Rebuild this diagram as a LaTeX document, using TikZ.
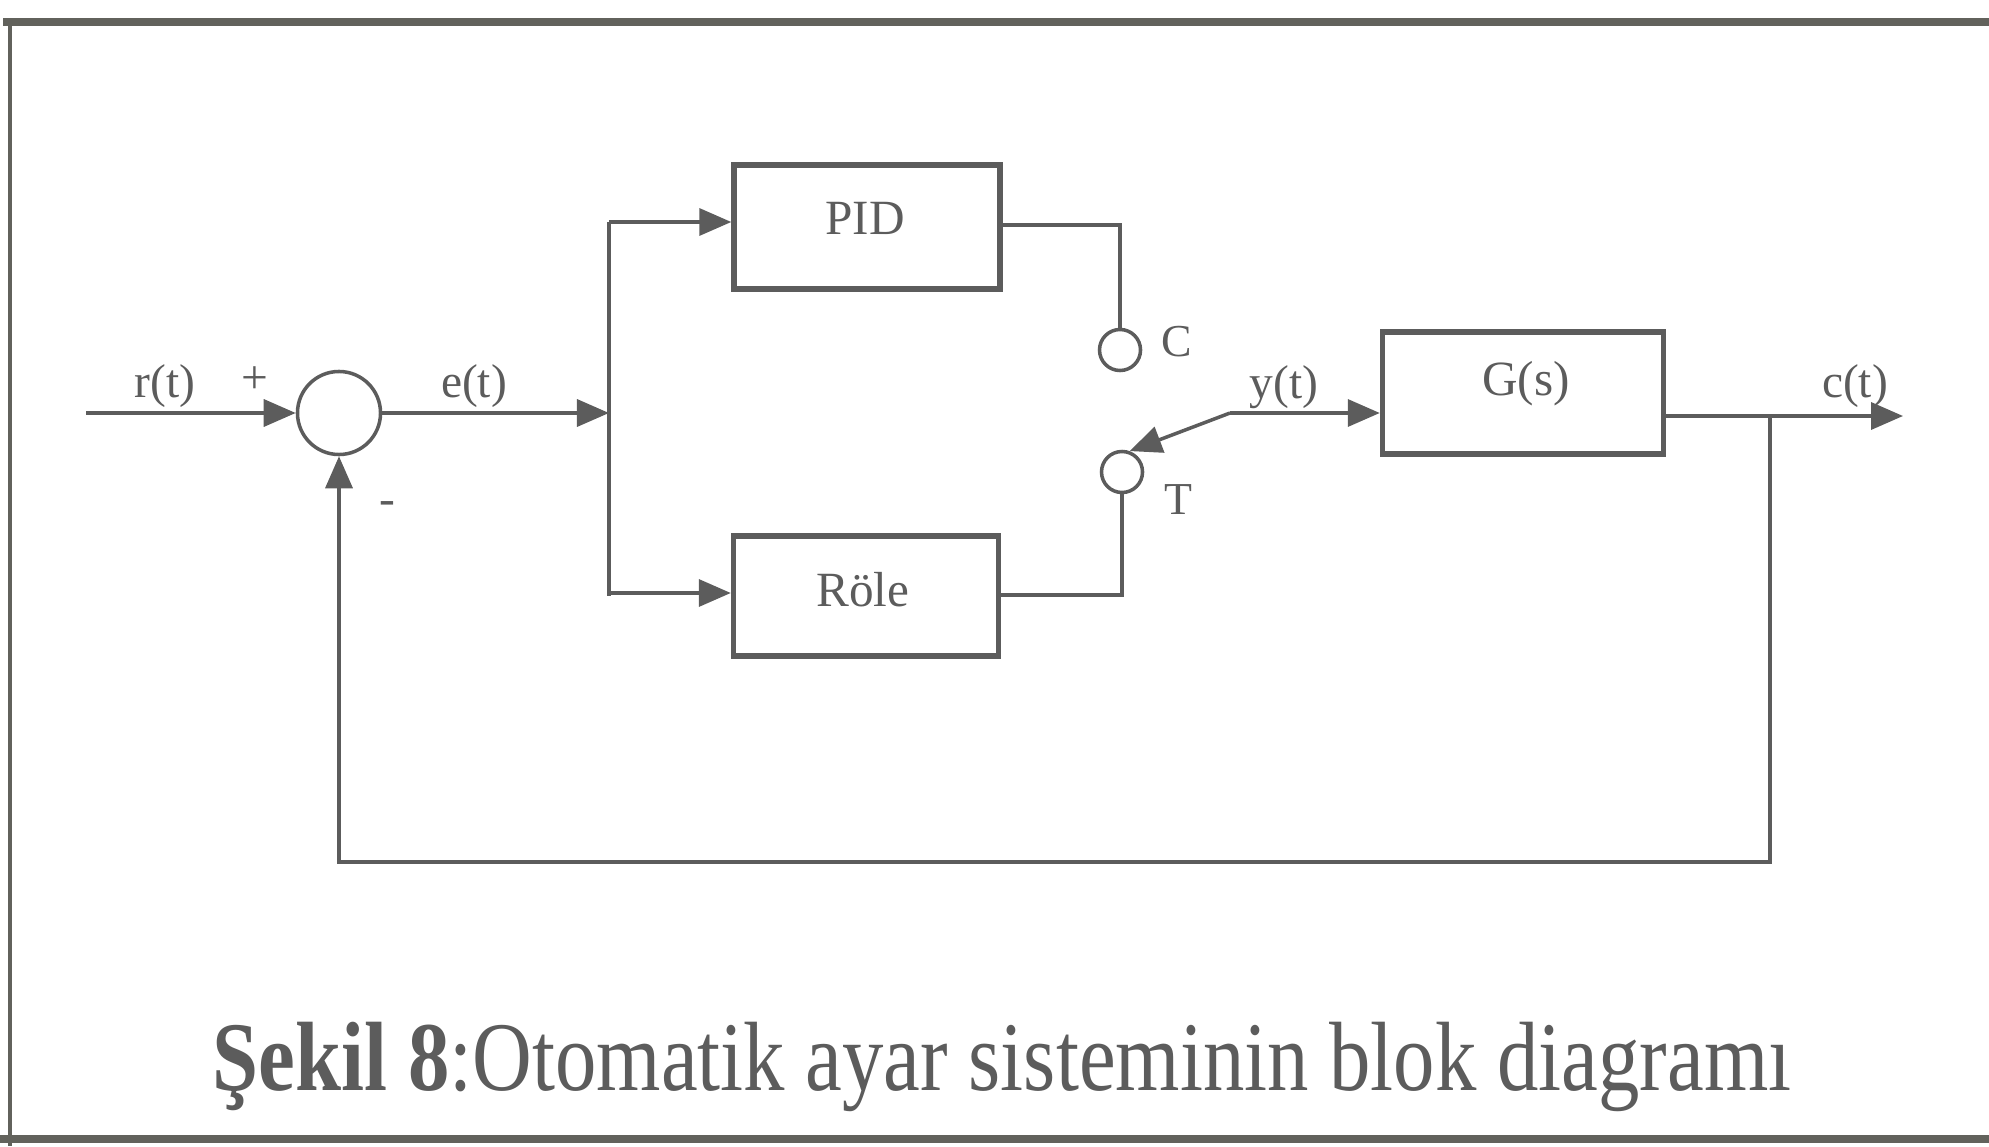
\documentclass[tikz,border=0pt]{standalone}
\usepackage{fontspec}
\setmainfont{Liberation Serif}
\usetikzlibrary{arrows.meta}
\definecolor{ink}{RGB}{92,92,92}
\definecolor{framec}{RGB}{98,98,92}
\begin{document}
\begin{tikzpicture}[x=0.01cm,y=-0.01cm,color=ink,line width=1pt,
  blk/.style={draw,line width=1.5pt,inner sep=0pt,font=\fontsize{14}{16}\selectfont},
  sig/.style={font=\fontsize{13.5}{15}\selectfont},
  port/.style={draw,circle,minimum size=0.41cm,inner sep=0pt},
  tip/.style={-{Triangle[length=0.32cm,width=0.27cm]}}]
\useasboundingbox (0,0) rectangle (1989,1146);
% frame
\draw[framec,line width=2.3pt] (3,22) -- (1989,22);
\draw[framec,line width=1.1pt] (10,22) -- (10,1146);
\draw[framec,line width=2.3pt] (0,1139) -- (1989,1139);
% blocks
\node[draw,circle,minimum size=0.83cm,inner sep=0pt] (sum) at (339,413) {};
\node[blk,minimum width=2.66cm,minimum height=1.24cm] (pid) at (867,227) {};
\node[font=\fontsize{14}{16}\selectfont] (pidtxt) at (865,218) {PID};
\node[blk,minimum width=2.65cm,minimum height=1.2cm] (role) at (866,596) {};
\node[font=\fontsize{14}{16}\selectfont] (roletxt) at (863,590) {Röle};
\node[blk,minimum width=2.81cm,minimum height=1.22cm] (gs) at (1523,393) {};
\node[font=\fontsize{14}{16}\selectfont] (gstxt) at (1526,384) {G(s)};
\node[port] (C) at (1120,350) {};
\node[port] (T) at (1122,472) {};
% junctions
\coordinate (in) at (86,413);
\coordinate (br) at (609,413);
\coordinate (sw) at (1230,413);
\coordinate (fb) at (1770,416);
\coordinate (out) at (1903,416);
% connectors
\draw[tip] (in) -- (sum.west);
\draw[tip] (sum.east) -- (br);
\draw (br |- pid.west) ++(0,-5) -- (br |- role.west);
\draw[tip] (609,222) -- (pid.west |- 0,222);
\draw[tip] (609,593) -- (role.west |- 0,593);
\draw (pid.east |- 0,225) -| (C.north);
\draw (role.east |- 0,595) -| (T.south);
\draw[tip] (sw) -- (T.70);
\draw[tip] (sw) -- (gs.west |- sw);
\draw[tip] (gs.east |- fb) -- (out);
\draw[tip] (fb) -- (1770,862) -- (sum.south |- 0,862) -- (sum.south);
% labels
\node[sig] (lr) at (165,386) {r(t)};
\node[sig] (lplus) at (255,380) {+};
\node[sig] (lminus) at (387,508) {-};
\node[sig] (le) at (474,386) {e(t)};
\node[font=\fontsize{13}{15}\selectfont] (lC) at (1177,342) {C};
\node[font=\fontsize{13}{15}\selectfont] (lT) at (1178,500) {T};
\node[sig] (ly) at (1284,387) {y(t)};
\node[sig] (lc) at (1855,386) {c(t)};
% caption
\node[anchor=base,font=\fontsize{28}{32}\selectfont] (cap) at (1002,1090)
  {\scalebox{0.84}[1]{\textbf{Şekil 8}:Otomatik ayar sisteminin blok diagramı}};
\end{tikzpicture}
\end{document}
